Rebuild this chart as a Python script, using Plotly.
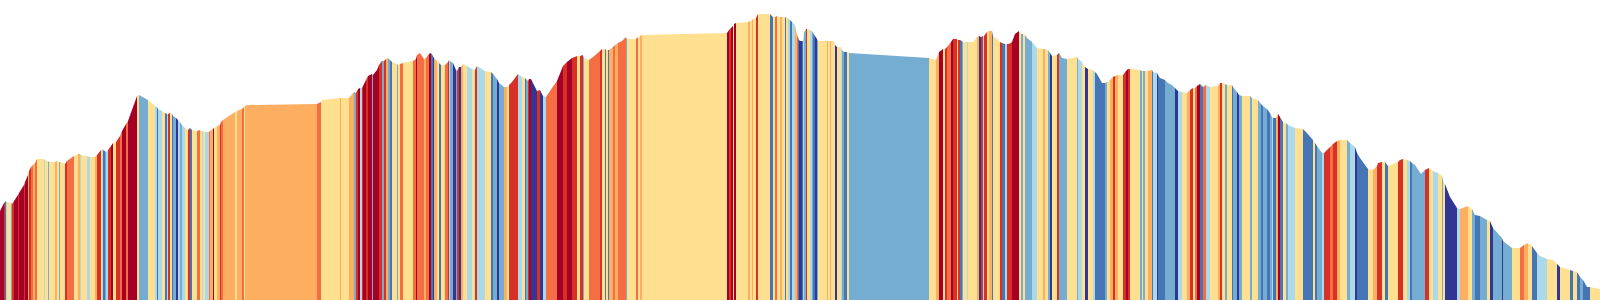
import plotly.graph_objects as go

# Distance along the route (km) at each profile point
dist_km = [0.0,
    # 0-20 km
    0.4,0.5,0.6,0.7,1.1,1.2,1.4,1.8,1.9,2.4,
    2.5,2.8,2.9,3.1,3.3,3.5,3.7,4.4,4.5,4.8,
    4.9,5.5,5.7,5.9,6.0,6.5,6.7,7.4,7.8,8.0,
    8.1,8.7,9.0,9.5,9.7,10.1,10.2,10.3,10.5,10.6,
    10.8,11.1,11.3,11.6,12.0,12.2,12.6,12.8,13.7,13.9,
    14.8,15.5,15.7,15.8,16.2,16.5,16.7,16.8,17.0,17.2,
    17.3,17.6,17.8,18.0,18.2,18.5,18.8,19.0,19.2,19.7,
    20.0,
    # 20-40 km
    20.2,20.3,20.5,20.9,21.0,21.3,21.4,21.7,22.0,22.1,
    22.3,23.5,23.7,24.2,24.4,24.5,24.7,31.7,32.1,32.2,
    34.0,34.1,34.9,35.4,35.6,35.8,36.0,36.2,36.3,36.6,
    36.8,37.2,37.3,37.7,37.9,38.2,38.4,38.6,38.8,39.0,
    39.2,39.7,39.8,40.0,
    # 40-60 km
    40.3,41.3,41.6,41.7,42.0,42.4,42.6,42.9,43.1,43.3,
    43.4,43.7,43.9,44.1,44.5,44.8,44.9,45.0,45.3,45.6,
    45.7,45.9,46.1,46.3,46.7,47.2,47.5,47.7,48.5,49.1,
    49.3,49.7,49.9,50.4,50.7,50.9,51.2,51.8,52.2,52.5,
    52.6,52.8,52.9,53.1,53.7,54.0,54.3,54.6,55.2,55.7,
    56.3,56.7,57.2,57.7,58.0,58.3,58.4,58.9,59.3,60.0,
    # 60-80 km
    60.2,60.5,60.6,60.8,60.9,61.3,61.5,61.8,62.2,62.6,
    62.7,63.6,63.8,64.0,64.2,72.7,72.9,73.1,73.3,73.4,
    73.6,74.8,75.0,75.2,75.3,75.6,75.8,77.0,77.3,77.5,
    77.7,78.0,78.2,78.5,78.6,78.8,79.0,79.2,79.3,79.5,
    79.7,79.8,79.9,80.0,
    # 80-100 km
    80.2,80.3,80.4,80.6,80.7,81.0,81.2,81.3,81.5,81.7,
    81.8,82.7,82.8,83.0,83.1,83.4,83.5,83.7,84.1,84.2,
    84.4,84.7,84.9,92.9,93.6,93.9,94.3,94.5,94.7,95.1,
    95.3,95.7,95.8,96.0,96.2,96.3,96.7,96.8,97.3,97.7,
    97.9,98.1,98.3,98.4,98.7,98.9,99.2,99.3,99.7,100.0,
    # 100-120 km
    100.2,100.5,100.7,100.9,101.2,101.5,101.9,102.1,102.3,102.5,
    102.7,103.2,103.7,104.3,104.5,104.8,105.0,105.2,105.7,105.9,
    106.2,106.7,107.7,107.8,108.2,108.5,108.8,109.3,109.5,109.7,
    110.2,110.5,110.7,111.0,111.3,111.5,111.8,112.3,112.6,112.8,
    113.0,114.0,114.2,114.3,114.5,114.8,115.2,115.3,115.7,115.8,
    116.0,116.5,116.8,117.2,117.5,117.8,118.2,118.7,119.0,119.3,
    119.5,119.7,120.0,
    # 120-140 km
    120.3,120.6,121.0,121.8,122.0,122.2,122.5,122.7,123.2,123.3,
    123.7,123.9,124.2,125.0,125.2,125.8,126.1,126.3,126.7,127.0,
    127.2,127.3,127.6,127.8,128.0,128.3,128.6,128.8,129.5,130.3,
    130.6,131.3,131.5,131.7,132.2,132.4,132.7,133.0,133.3,133.7,
    134.0,134.7,135.0,135.5,135.7,136.0,136.5,136.8,137.3,137.7,
    137.8,138.2,138.5,138.8,139.8,140.0,
    # 140-160 km
    140.3,140.7,141.0,141.2,141.5,142.1,142.5,142.9,143.3,143.8,
    144.2,144.3,144.5,145.0,145.7,146.0,146.8,147.2,147.5,148.0,
    148.7,149.0,149.3,150.2,150.3,151.2,152.0,152.4,152.8,153.2,
    153.7,154.0,154.7,155.3,155.7,156.0,157.0,157.3,157.7,158.0,
    158.3,158.7,159.0,160.0,
]

# Elevation (m) at each profile point
elev_m = [89,
    97,98,99,98,97,96,99,105,107,115,
    118,125,129,133,135,137,141,141,140,139,
    138,138,139,138,138,136,139,144,146,146,
    145,144,143,143,145,150,151,150,149,148,
    150,154,157,158,164,169,176,179,204,205,
    200,194,193,191,189,187,186,186,187,186,
    184,182,180,178,175,172,170,172,170,169,
    170,
    169,169,168,168,169,171,172,174,175,178,
    180,188,189,191,193,194,195,196,198,200,
    202,202,202,208,207,211,212,212,214,220,
    224,226,225,230,235,239,239,241,242,240,
    238,236,235,236,
    237,239,241,245,247,241,242,246,247,244,
    242,239,237,235,235,238,240,239,237,230,
    229,233,233,236,234,231,230,234,229,228,
    226,221,217,213,213,215,218,226,223,222,
    221,219,221,221,209,210,204,203,212,219,
    234,238,242,244,244,245,242,240,243,249,
    251,251,250,250,250,253,255,257,259,263,
    261,261,263,264,265,267,270,272,274,276,
    277,278,279,280,281,282,286,286,283,283,
    284,283,283,283,282,282,280,278,277,275,
    265,263,260,259,
    259,259,267,271,271,270,269,267,264,261,
    259,259,259,259,259,259,255,253,253,250,
    248,248,247,242,240,248,251,251,253,258,
    261,261,260,260,259,258,258,258,258,263,
    264,263,264,264,268,269,269,264,261,258,
    257,256,256,256,258,266,269,266,266,265,
    262,258,252,251,251,250,247,244,245,247,
    242,241,243,241,238,233,231,230,228,226,
    217,217,218,220,223,224,225,225,229,231,
    231,230,229,229,229,229,230,228,227,225,
    222,220,217,215,212,209,208,207,210,212,
    212,214,216,
    213,215,213,214,217,217,216,215,215,213,
    208,205,204,204,202,200,196,194,191,187,
    183,182,182,186,183,178,177,175,172,171,
    168,160,157,154,147,147,150,153,156,159,
    160,160,157,153,147,142,135,131,130,134,
    137,138,138,134,138,140,
    141,140,139,137,135,126,130,132,129,127,
    124,120,116,103,92,91,94,91,85,84,
    80,79,72,62,59,52,52,55,57,54,
    47,44,41,40,36,33,30,29,28,23,
    20,13,13,11,
]

# Recorded gradient (%) of each segment between consecutive points
grade_pct = [
    10,7,-6,-2,1,-4,7,10,7,10,
    7,10,3,7,5,3,5,1,-2,1,
    -4,1,3,1,-4,1,7,5,1,3,
    -2,1,-2,1,3,7,1,-2,-6,-4,
    -2,7,10,1,7,5,10,5,10,1,
    -4,1,-2,-6,-2,1,-6,-2,7,1,
    -6,-4,-9,-2,-4,-2,1,7,-6,1,
    5,
    1,-2,1,-2,5,3,10,1,3,7,
    5,3,1,3,5,1,3,3,5,1,
    1,3,1,3,-4,7,10,-2,7,10,
    7,10,-4,10,10,7,-4,7,3,-4,
    -6,1,-4,1,
    5,1,5,10,5,5,3,5,10,-6,
    -9,3,1,-6,1,5,7,-2,-4,-9,
    -4,7,-9,3,1,-2,1,7,-2,1,
    -6,-4,-9,-4,3,1,7,7,-2,1,
    -6,-4,7,10,-9,7,-9,-2,5,5,
    10,7,10,7,1,7,-4,1,5,5,
    7,1,-6,1,-6,3,5,3,5,5,
    -4,1,5,1,3,1,10,7,10,1,
    10,1,3,1,3,1,7,1,-6,1,
    5,1,3,1,-6,1,-2,-6,-2,-2,
    3,5,-6,-9,
    -9,-6,-2,-4,7,1,-2,-4,-6,-9,
    -4,1,3,1,3,1,1,-9,1,-2,
    -4,-6,1,-4,1,3,10,1,7,5,
    10,7,1,7,-6,-4,1,-2,1,1,
    3,-9,7,-2,7,1,3,-6,1,1,
    7,-6,-2,7,7,10,10,1,-4,1,
    -4,-4,-2,1,3,1,-4,-9,1,7,
    -4,-4,1,-4,-2,1,-9,1,-2,-6,
    -6,-6,-4,1,3,7,3,1,7,10,
    7,1,-4,1,-4,1,3,-6,-2,-9,
    -6,-6,-4,-4,-4,-9,-2,1,3,7,
    1,5,10,
    -6,5,-2,1,3,7,1,-4,1,-6,
    -4,-9,-4,1,-4,1,-4,-6,-4,-6,
    -4,-2,-6,3,10,-6,1,-4,-2,1,
    -6,-6,1,-6,-4,-2,7,7,5,7,
    3,1,-4,-2,-9,-6,-6,-6,1,3,
    7,7,1,-6,1,7,
    7,1,-2,-6,-4,-4,-4,7,1,-2,
    1,-4,1,-9,-9,-2,3,1,-4,-6,
    -4,1,-9,-4,-9,-4,1,5,3,1,
    -6,-2,-2,1,1,-9,1,-6,1,-6,
    -4,-6,-6,1,
]

assert len(dist_km) == len(elev_m), (len(dist_km), len(elev_m))
assert len(grade_pct) == len(dist_km) - 1, (len(grade_pct), len(dist_km))

# Gradient classes (lower bound %, colour) – RdYlBu, steepest climb first
grade_classes = [
    (8, "#a50026"),
    (6, "#d73027"),
    (4, "#f46d43"),
    (2, "#fdae61"),
    (-1, "#fee090"),
    (-3, "#abd9e9"),
    (-5, "#74add1"),
    (-7, "#4575b4"),
    (-99, "#313695"),
]
n_cls = len(grade_classes)


def grade_class(g):
    for k, (lo, _) in enumerate(grade_classes):
        if g >= lo:
            return k
    return n_cls - 1


cls_idx = [grade_class(g) for g in grade_pct]

# stepwise discrete colourscale
colorscale = []
for k, (_, col) in enumerate(grade_classes):
    colorscale.append([k / n_cls, col])
    colorscale.append([(k + 1) / n_cls, col])

Y_TOP = 300

fig = go.Figure()
# coloured gradient stripes, one cell per segment
fig.add_trace(go.Heatmap(
    x=dist_km, y=[0, Y_TOP], z=[cls_idx],
    zmin=-0.5, zmax=n_cls - 0.5, colorscale=colorscale,
    showscale=False, hoverinfo="skip", zsmooth=False,
))
# white mask above the elevation profile
mask_x = list(dist_km) + [dist_km[-1], dist_km[0]]
mask_y = list(elev_m) + [Y_TOP + 50, Y_TOP + 50]
fig.add_trace(go.Scatter(
    x=mask_x, y=mask_y, mode="lines", fill="toself",
    fillcolor="white", line=dict(color="white", width=0, simplify=False),
    hoverinfo="skip", showlegend=False,
))

fig.update_layout(
    width=1600, height=300,
    margin=dict(l=0, r=0, t=0, b=0),
    paper_bgcolor="white", plot_bgcolor="white",
    xaxis=dict(range=[dist_km[0], dist_km[-1]], visible=False, fixedrange=True),
    yaxis=dict(range=[0, Y_TOP], visible=False, fixedrange=True),
    showlegend=False,
)
fig.write_html("out.html", config={"displayModeBar": False})
